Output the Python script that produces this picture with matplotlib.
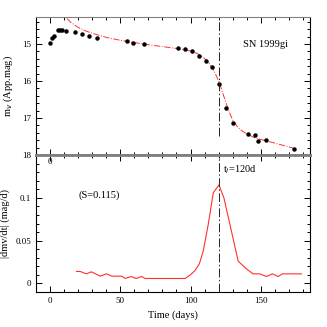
import numpy as np
import matplotlib
matplotlib.use('Agg')
import matplotlib.pyplot as plt
from matplotlib.ticker import MultipleLocator

plt.rcParams['font.family'] = 'Liberation Serif'

# Observed light curve (days, apparent V mag)
obs_t = [0.3, 1.5, 2.7, 5.5, 7.0, 8.4, 11.7, 17.9, 22.6, 27.5, 33.5, 54.5, 59.2, 67.2,
         91.4, 96.1, 101.3, 106.2, 111.0, 115.5, 120.2, 125.2, 129.9, 141.0, 146.0,
         148.1, 154.0, 173.9]
obs_m = [14.97, 14.85, 14.77, 14.63, 14.61, 14.62, 14.65, 14.68, 14.73, 14.77, 14.83,
         14.93, 14.96, 14.99, 15.10, 15.14, 15.20, 15.32, 15.46, 15.63, 16.08, 16.74,
         17.14, 17.42, 17.47, 17.62, 17.59, 17.85]

# Fitted curve
fit_t = [12, 15, 20, 25, 30, 40, 50, 60, 70, 80, 90, 95, 100, 105, 108, 111, 114, 116,
         118, 120, 122, 124, 126, 128, 130, 133, 136, 140, 145, 150, 160, 170, 175]
fit_m = [14.31, 14.42, 14.55, 14.64, 14.71, 14.82, 14.90, 14.96, 15.02, 15.07, 15.12,
         15.15, 15.19, 15.26, 15.33, 15.43, 15.56, 15.68, 15.83, 16.00, 16.22, 16.45,
         16.68, 16.88, 17.05, 17.22, 17.33, 17.43, 17.52, 17.58, 17.68, 17.78, 17.84]

# |dm/dt| curve
der_t = [18.8, 21.5, 25.9, 29.4, 35.8, 40.0, 44.1, 48.5, 51.0, 53.5, 57.6, 61.3, 65.1,
         67.7, 96.1, 99.6, 103.2, 106.3, 109.1, 112.6, 116.2, 120.2, 123.8, 128.0, 133.9,
         139.8, 144.5, 149.3, 154.0, 158.3, 162.3, 165.4, 178.9]
der_v = [0.0140, 0.0140, 0.0112, 0.0136, 0.0085, 0.0112, 0.0085, 0.0085, 0.0085, 0.0058,
         0.0081, 0.0058, 0.0081, 0.0058, 0.0058, 0.0097, 0.0151, 0.0230, 0.0384, 0.0690,
         0.1060, 0.1150, 0.0996, 0.0690, 0.0260, 0.0170, 0.0112, 0.0112, 0.0081, 0.0112,
         0.0081, 0.0112, 0.0112]

t_infl = 120

fig = plt.figure(figsize=(3.27, 3.27), dpi=100)
ax1 = fig.add_axes([0.110, 0.526, 0.838, 0.422])
ax2 = fig.add_axes([0.110, 0.107, 0.838, 0.419])

vstyle = dict(color='#222222', lw=0.7, ls=(0, (9, 2.5, 1.5, 2.5)))

ax1.plot(fit_t, fit_m, color='#ff3030', lw=0.7, ls='-.')
ax1.plot(obs_t, obs_m, 'o', color='black', ms=2.2)
ax1.axvline(t_infl, ymin=0.14, **vstyle)
ax1.set_xlim(-10, 185)
ax1.set_ylim(18, 14.27)
ax1.set_ylabel('m$_v$ (App.mag)', fontsize=7.5, labelpad=5)
ax1.text(137, 15.02, 'SN 1999gi', fontsize=7.5, va='center')
ax1.set_xticklabels([])

ax2.plot(der_t, der_v, color='#ff3030', lw=0.8)
ax2.axvline(t_infl, **vstyle)
ax2.set_xlim(-10, 185)
ax2.set_ylim(-0.01, 0.15)
ax2.set_xlabel('Time (days)', fontsize=7.5)
ax2.set_ylabel('|dmv/dt| (mag/d)', fontsize=7.5)
ax2.text(122.8, 0.133, 't$_i$=120d', fontsize=7.5, va='center')
ax2.text(20, 0.103, '(S=0.115)', fontsize=7.5, va='center')
ax2.text(0, 0.146, '0', fontsize=6.5, ha='center', va='top')

for ax in (ax1, ax2):
    ax.xaxis.set_major_locator(MultipleLocator(50))
    ax.xaxis.set_minor_locator(MultipleLocator(10))
    ax.tick_params(which='both', direction='in', top=True, right=True, labelsize=6.5,
                   width=0.7)
    ax.tick_params(which='major', length=4)
    ax.tick_params(which='minor', length=2)
    for s in ax.spines.values():
        s.set_linewidth(0.8)

ax1.yaxis.set_major_locator(MultipleLocator(1))
ax1.yaxis.set_minor_locator(MultipleLocator(0.2))
ax2.yaxis.set_major_locator(MultipleLocator(0.05))
ax2.yaxis.set_minor_locator(MultipleLocator(0.01))
ax2.set_yticks([0, 0.05, 0.1])
ax2.set_yticklabels(['0', '0.05', '0.1'])

ax1.spines['top'].set_color('gray')
ax1.spines['bottom'].set_color('gray')
ax1.spines['bottom'].set_linewidth(2)
ax2.spines['top'].set_color('gray')
ax2.spines['top'].set_linewidth(2)

fig.savefig('out.png', dpi=100)
